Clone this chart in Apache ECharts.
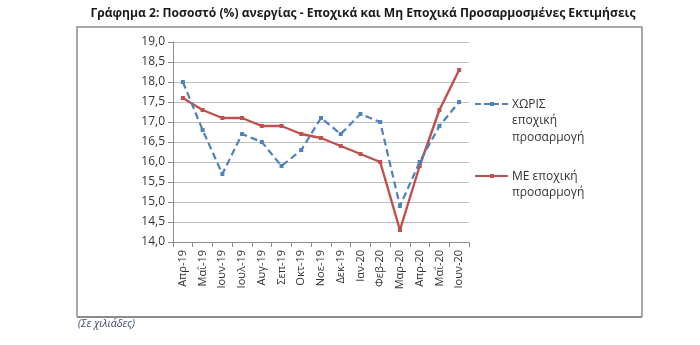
<!DOCTYPE html>
<html>
<head>
<meta charset="utf-8">
<script src="https://cdn.jsdelivr.net/npm/echarts@6/dist/echarts.min.js"></script>
<style>
  html, body { margin: 0; padding: 0; background: #ffffff; }
  #chart { width: 700px; height: 345px; }
</style>
</head>
<body>
<div id="chart"></div>
<script>
// Μήνες αναφοράς
const months = ['Απρ-19', 'Μαΐ-19', 'Ιουν-19', 'Ιουλ-19', 'Αυγ-19', 'Σεπ-19', 'Οκτ-19',
  'Νοε-19', 'Δεκ-19', 'Ιαν-20', 'Φεβ-20', 'Μαρ-20', 'Απρ-20', 'Μαΐ-20', 'Ιουν-20'];

// Ποσοστό ανεργίας χωρίς εποχική προσαρμογή
const unadjusted = [18.0, 16.8, 15.7, 16.7, 16.5, 15.9, 16.3, 17.1, 16.7, 17.2, 17.0, 14.9, 16.0, 16.9, 17.5];

// Ποσοστό ανεργίας με εποχική προσαρμογή
const adjusted = [17.6, 17.3, 17.1, 17.1, 16.9, 16.9, 16.7, 16.6, 16.4, 16.2, 16.0, 14.3, 15.9, 17.3, 18.3];

const seriesNames = ['ΧΩΡΙΣ εποχική προσαρμογή', 'ΜΕ εποχική προσαρμογή'];
const yMin = 14, yMax = 19, yStep = 0.5;

const BLUE = '#4f81bd';
const RED = '#c0504d';
const FONT = 'Open Sans';

const chart = echarts.init(document.getElementById('chart'));

chart.setOption({
  animation: false,
  backgroundColor: '#ffffff',
  title: {
    text: 'Γράφημα 2: Ποσοστό (%) ανεργίας - Εποχικά και Μη Εποχικά Προσαρμοσμένες Εκτιμήσεις',
    left: 358, top: 3, textAlign: 'center',
    textStyle: { fontFamily: FONT, fontWeight: 'bold', fontSize: 12.1, color: '#1a1a1a' }
  },
  grid: { left: 173, top: 42, width: 296, height: 200 },
  xAxis: {
    type: 'category',
    data: months,
    boundaryGap: true,
    axisLine: { lineStyle: { color: '#8c8c8c', width: 1 } },
    axisTick: { show: true, length: 5, lineStyle: { color: '#8c8c8c' } },
    axisLabel: { rotate: 90, margin: 8, fontFamily: FONT, fontSize: 11, color: '#333333' }
  },
  yAxis: {
    type: 'value',
    min: yMin, max: yMax, interval: yStep,
    axisLine: { show: true, lineStyle: { color: '#8c8c8c', width: 1 } },
    axisTick: { show: true, length: 5, lineStyle: { color: '#8c8c8c' } },
    splitLine: { lineStyle: { color: '#bfbfbf', width: 1 } },
    axisLabel: {
      margin: 8, fontFamily: FONT, fontSize: 12, color: '#333333',
      formatter: v => v.toFixed(1).replace('.', ',')
    }
  },
  series: [
    {
      name: seriesNames[0],
      type: 'line',
      data: unadjusted,
      symbol: 'rect', symbolSize: 4, showAllSymbol: true,
      itemStyle: { color: BLUE },
      lineStyle: { color: BLUE, width: 2.2, type: [7, 4] },
      z: 3
    },
    {
      name: seriesNames[1],
      type: 'line',
      data: adjusted,
      symbol: 'rect', symbolSize: 4, showAllSymbol: true,
      itemStyle: { color: RED },
      lineStyle: { color: RED, width: 2.4 },
      z: 2
    }
  ],
  graphic: [
    // πλαίσιο του γραφήματος
    {
      type: 'polyline', shape: { points: [[642, 317], [642, 27], [77, 27], [77, 317]] },
      style: { fill: 'none', stroke: '#8c8c8c', lineWidth: 1.5 }, silent: true
    },
    {
      type: 'line', shape: { x1: 77, y1: 317, x2: 642, y2: 317 },
      style: { stroke: '#8c8c8c', lineWidth: 2.2 }, silent: true
    },
    // υπόμνημα
    {
      type: 'line', shape: { x1: 475, y1: 104, x2: 508, y2: 104 },
      style: { stroke: BLUE, lineWidth: 2.2, lineDash: [6, 3] }
    },
    { type: 'rect', shape: { x: 490, y: 102, width: 4, height: 4 }, style: { fill: BLUE } },
    {
      type: 'text', left: 512, top: 96,
      style: { text: 'ΧΩΡΙΣ\nεποχική\nπροσαρμογή', fontFamily: FONT, fontSize: 12, lineHeight: 16.5, fill: '#333333' }
    },
    {
      type: 'line', shape: { x1: 475, y1: 176, x2: 508, y2: 176 },
      style: { stroke: RED, lineWidth: 2.2 }
    },
    { type: 'rect', shape: { x: 490, y: 174, width: 4, height: 4 }, style: { fill: RED } },
    {
      type: 'text', left: 512, top: 168,
      style: { text: 'ΜΕ εποχική\nπροσαρμογή', fontFamily: FONT, fontSize: 12, lineHeight: 16.5, fill: '#333333' }
    },
    // υποσημείωση
    {
      type: 'text', left: 78, top: 319,
      style: { text: '(Σε χιλιάδες)', fontFamily: FONT, fontSize: 10.5, fontStyle: 'italic', fill: '#3b4a6b' }
    }
  ]
});
</script>
</body>
</html>
